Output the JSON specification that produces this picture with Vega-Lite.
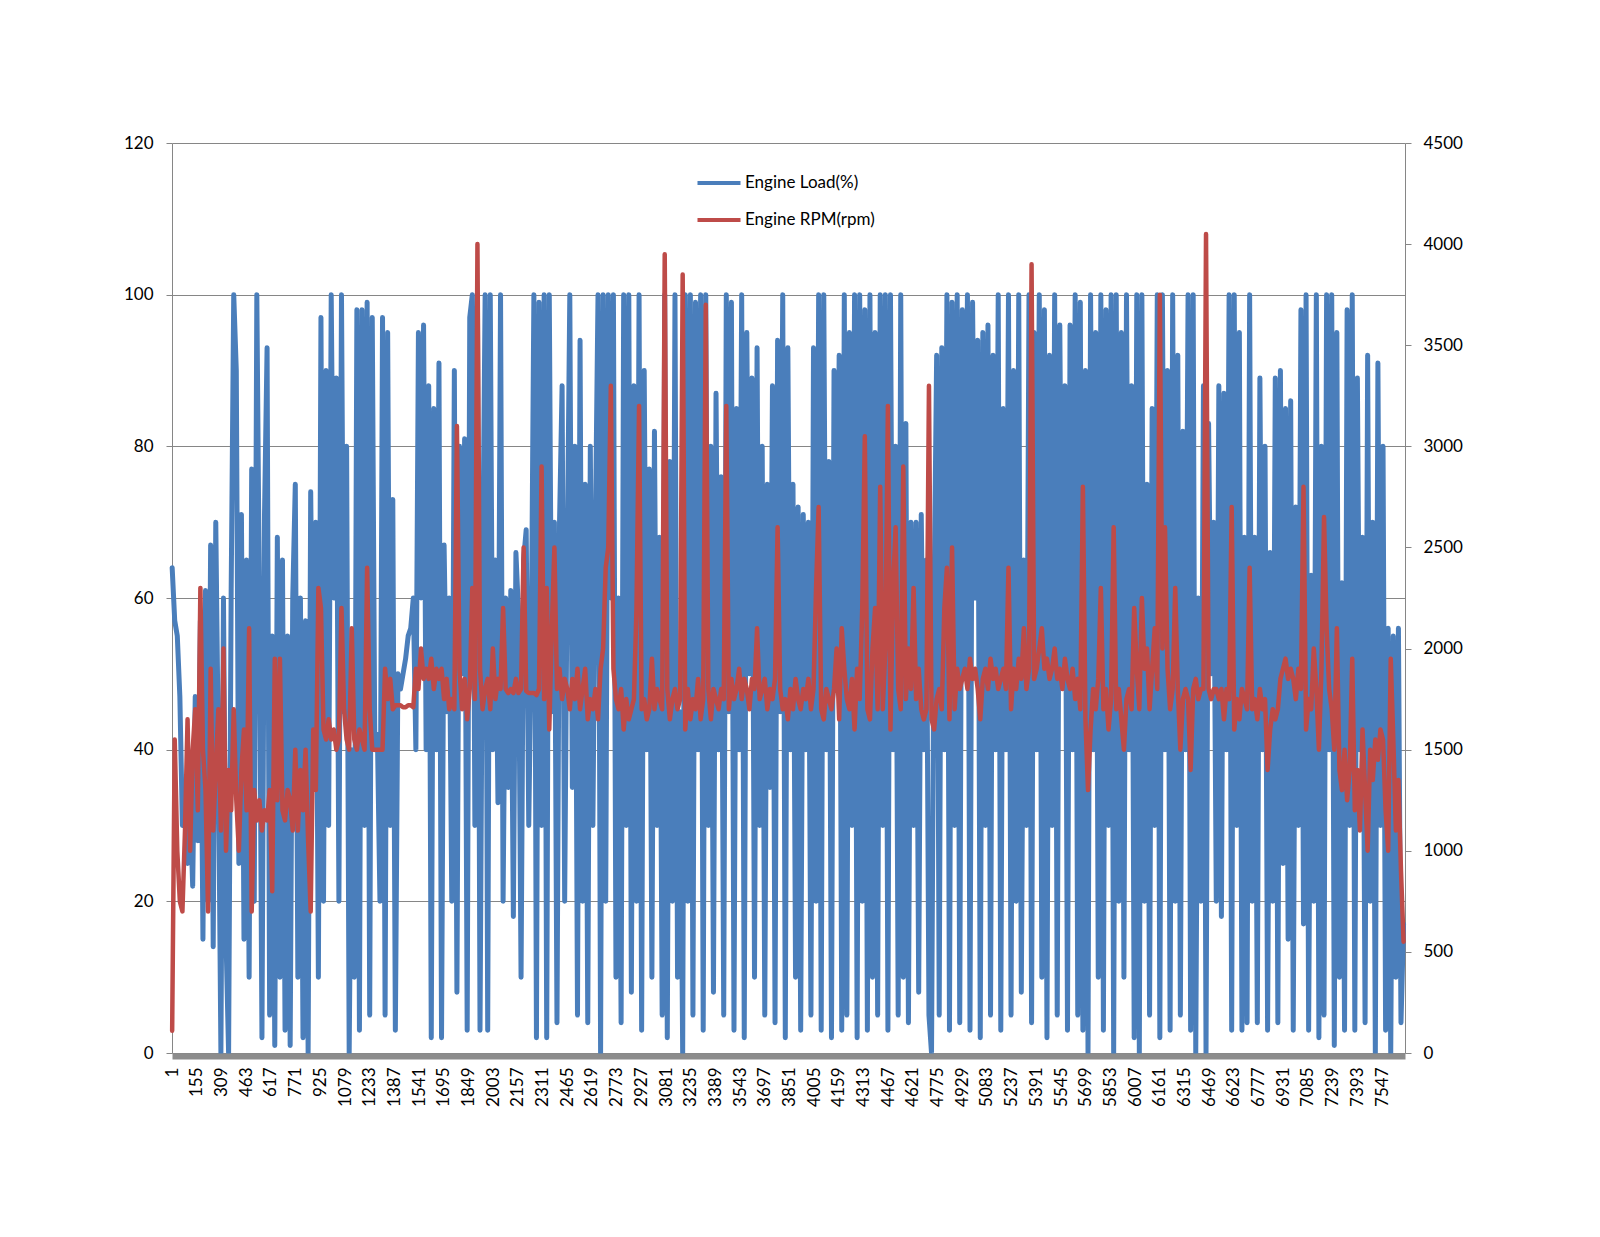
{
"$schema": "https://vega.github.io/schema/vega-lite/v6.json",
"width": 1233, "height": 910,
"autosize": {"type": "none"},
"padding": {"left": 172, "top": 143, "right": 195, "bottom": 184},
"background": "white",
"config": {"view": {"stroke": null}, "font": "Lato", "axis": {"labelFont": "Lato", "labelColor": "#000", "labelFontSize": 17, "title": null}},
"data": {"values": [
{"i":1,"l":64,"r":110},{"i":17,"l":57,"r":1550},{"i":33,"l":55,"r":1000},{"i":49,"l":47,"r":750},{"i":65,"l":30,"r":700},{"i":81,"l":34,"r":1100},{"i":97,"l":25,"r":1650},{"i":113,"l":33,"r":1000},{"i":129,"l":22,"r":1500},{"i":145,"l":47,"r":1700},{"i":161,"l":28,"r":1200},{"i":177,"l":57,"r":2300},{"i":193,"l":15,"r":1500},
{"i":209,"l":61,"r":1300},{"i":225,"l":20,"r":700},{"i":241,"l":67,"r":1900},{"i":257,"l":14,"r":1100},{"i":273,"l":70,"r":1400},{"i":289,"l":40,"r":1700},{"i":305,"l":0,"r":1100},{"i":321,"l":60,"r":2000},{"i":337,"l":15,"r":1000},{"i":353,"l":0,"r":1400},{"i":369,"l":61,"r":1200},{"i":385,"l":100,"r":1700},{"i":401,"l":90,"r":1250},{"i":417,"l":25,"r":1000},{"i":433,"l":71,"r":1400},{"i":449,"l":15,"r":1600},{"i":465,"l":65,"r":1200},{"i":481,"l":10,"r":2100},{"i":497,"l":77,"r":700},{"i":513,"l":20,"r":1300},
{"i":529,"l":100,"r":1150},{"i":545,"l":60,"r":1250},{"i":561,"l":2,"r":1100},{"i":577,"l":71,"r":1200},{"i":593,"l":93,"r":1150},{"i":609,"l":5,"r":1300},{"i":625,"l":55,"r":800},{"i":641,"l":1,"r":1950},{"i":657,"l":68,"r":1250},{"i":673,"l":10,"r":1950},{"i":689,"l":65,"r":1200},{"i":705,"l":3,"r":1150},{"i":721,"l":55,"r":1300},{"i":737,"l":1,"r":1250},{"i":753,"l":60,"r":1100},{"i":769,"l":75,"r":1500},{"i":785,"l":10,"r":1100},{"i":801,"l":60,"r":1400},{"i":817,"l":2,"r":1200},{"i":833,"l":57,"r":1500},
{"i":849,"l":0,"r":1050},{"i":865,"l":74,"r":700},{"i":881,"l":40,"r":1600},{"i":897,"l":70,"r":1300},{"i":913,"l":10,"r":2300},{"i":929,"l":97,"r":2200},{"i":945,"l":20,"r":1600},{"i":961,"l":90,"r":1550},{"i":977,"l":30,"r":1650},{"i":993,"l":100,"r":1550},{"i":1009,"l":60,"r":1600},{"i":1025,"l":89,"r":1500},{"i":1041,"l":20,"r":1550},{"i":1057,"l":100,"r":2200},{"i":1073,"l":45,"r":1700},{"i":1089,"l":80,"r":1550},{"i":1105,"l":0,"r":1500},{"i":1121,"l":40,"r":2100},{"i":1137,"l":10,"r":1550},{"i":1153,"l":98,"r":1500},
{"i":1169,"l":3,"r":1600},{"i":1185,"l":98,"r":1550},{"i":1201,"l":30,"r":1500},{"i":1217,"l":99,"r":2400},{"i":1233,"l":5,"r":1700},{"i":1249,"l":97,"r":1500},{"i":1265,"l":40,"r":1500},{"i":1281,"l":42,"r":1500},{"i":1297,"l":20,"r":1500},{"i":1313,"l":97,"r":1500},{"i":1329,"l":5,"r":1900},{"i":1345,"l":95,"r":1750},{"i":1361,"l":30,"r":1850},{"i":1377,"l":73,"r":1700},{"i":1393,"l":3,"r":1720},{"i":1409,"l":50,"r":1720},{"i":1425,"l":48,"r":1720},{"i":1441,"l":50,"r":1710},{"i":1457,"l":52,"r":1710},{"i":1473,"l":55,"r":1720},
{"i":1489,"l":56,"r":1720},{"i":1505,"l":60,"r":1710},{"i":1521,"l":40,"r":1900},{"i":1537,"l":95,"r":1800},{"i":1553,"l":60,"r":2000},{"i":1569,"l":96,"r":1850},{"i":1585,"l":40,"r":1900},{"i":1601,"l":88,"r":1850},{"i":1617,"l":2,"r":1950},{"i":1633,"l":85,"r":1800},{"i":1649,"l":40,"r":1900},{"i":1665,"l":91,"r":1850},{"i":1681,"l":2,"r":1900},{"i":1697,"l":67,"r":1750},{"i":1713,"l":45,"r":1850},{"i":1729,"l":60,"r":1700},{"i":1745,"l":20,"r":1750},{"i":1761,"l":90,"r":1700},{"i":1777,"l":8,"r":3100},{"i":1793,"l":80,"r":1900},
{"i":1809,"l":50,"r":1700},{"i":1825,"l":81,"r":1850},{"i":1841,"l":3,"r":1650},{"i":1857,"l":97,"r":1800},{"i":1873,"l":100,"r":2300},{"i":1889,"l":30,"r":1750},{"i":1905,"l":100,"r":4000},{"i":1921,"l":3,"r":1900},{"i":1937,"l":62,"r":1700},{"i":1953,"l":100,"r":1800},{"i":1969,"l":3,"r":1850},{"i":1985,"l":100,"r":1700},{"i":2001,"l":40,"r":2000},{"i":2017,"l":65,"r":1750},{"i":2033,"l":33,"r":1850},{"i":2049,"l":100,"r":1800},{"i":2065,"l":20,"r":2200},{"i":2081,"l":60,"r":1800},{"i":2097,"l":35,"r":1780},{"i":2113,"l":61,"r":1800},
{"i":2129,"l":18,"r":1780},{"i":2145,"l":66,"r":1850},{"i":2161,"l":58,"r":1780},{"i":2177,"l":10,"r":1800},{"i":2193,"l":65,"r":2500},{"i":2209,"l":69,"r":1790},{"i":2225,"l":30,"r":1780},{"i":2241,"l":55,"r":1780},{"i":2257,"l":100,"r":1780},{"i":2273,"l":2,"r":1770},{"i":2289,"l":99,"r":1800},{"i":2305,"l":30,"r":2900},{"i":2321,"l":100,"r":1750},{"i":2337,"l":2,"r":2300},{"i":2353,"l":100,"r":1600},{"i":2369,"l":45,"r":2100},{"i":2385,"l":70,"r":2500},{"i":2401,"l":4,"r":1800},{"i":2417,"l":70,"r":1900},
{"i":2433,"l":88,"r":1750},{"i":2449,"l":20,"r":1850},{"i":2465,"l":65,"r":1800},{"i":2481,"l":100,"r":1700},{"i":2497,"l":35,"r":1850},{"i":2513,"l":80,"r":1750},{"i":2529,"l":5,"r":1900},{"i":2545,"l":94,"r":1700},{"i":2561,"l":20,"r":1800},{"i":2577,"l":75,"r":1900},{"i":2593,"l":4,"r":1650},{"i":2609,"l":80,"r":1750},{"i":2625,"l":30,"r":1700},{"i":2641,"l":70,"r":1800},{"i":2657,"l":100,"r":1650},{"i":2673,"l":0,"r":1900},{"i":2689,"l":100,"r":2000},{"i":2705,"l":20,"r":2400},{"i":2721,"l":100,"r":2500},{"i":2737,"l":60,"r":3300},
{"i":2753,"l":100,"r":1900},{"i":2769,"l":10,"r":1750},{"i":2785,"l":60,"r":1700},{"i":2801,"l":4,"r":1800},{"i":2817,"l":100,"r":1600},{"i":2833,"l":30,"r":1750},{"i":2849,"l":100,"r":1650},{"i":2865,"l":8,"r":1700},{"i":2881,"l":88,"r":1750},{"i":2897,"l":20,"r":2200},{"i":2913,"l":100,"r":3200},{"i":2929,"l":3,"r":1700},{"i":2945,"l":90,"r":1750},{"i":2961,"l":40,"r":1650},{"i":2977,"l":77,"r":1700},{"i":2993,"l":10,"r":1950},{"i":3009,"l":82,"r":1700},{"i":3025,"l":30,"r":1800},{"i":3041,"l":68,"r":1750},{"i":3057,"l":5,"r":1700},
{"i":3073,"l":100,"r":3950},{"i":3089,"l":2,"r":1800},{"i":3105,"l":78,"r":1650},{"i":3121,"l":20,"r":1750},{"i":3137,"l":100,"r":1800},{"i":3153,"l":10,"r":1700},{"i":3169,"l":45,"r":1750},{"i":3185,"l":0,"r":3850},{"i":3201,"l":100,"r":1600},{"i":3217,"l":20,"r":1800},{"i":3233,"l":100,"r":1650},{"i":3249,"l":5,"r":1750},{"i":3265,"l":99,"r":1700},{"i":3281,"l":40,"r":1850},{"i":3297,"l":100,"r":1650},{"i":3313,"l":3,"r":1750},{"i":3329,"l":100,"r":3700},{"i":3345,"l":30,"r":1800},{"i":3361,"l":80,"r":1650},{"i":3377,"l":8,"r":1800},
{"i":3393,"l":87,"r":1750},{"i":3409,"l":40,"r":1700},{"i":3425,"l":76,"r":1800},{"i":3441,"l":5,"r":1750},{"i":3457,"l":100,"r":3200},{"i":3473,"l":45,"r":1700},{"i":3489,"l":99,"r":1850},{"i":3505,"l":3,"r":1750},{"i":3521,"l":85,"r":1800},{"i":3537,"l":40,"r":1900},{"i":3553,"l":100,"r":1750},{"i":3569,"l":2,"r":1850},{"i":3585,"l":95,"r":1800},{"i":3601,"l":50,"r":1700},{"i":3617,"l":89,"r":1850},{"i":3633,"l":10,"r":1800},{"i":3649,"l":93,"r":2100},{"i":3665,"l":30,"r":1750},{"i":3681,"l":80,"r":1800},{"i":3697,"l":5,"r":1850},
{"i":3713,"l":75,"r":1700},{"i":3729,"l":35,"r":1800},{"i":3745,"l":88,"r":1750},{"i":3761,"l":4,"r":1850},{"i":3777,"l":94,"r":2600},{"i":3793,"l":45,"r":1800},{"i":3809,"l":100,"r":1700},{"i":3825,"l":2,"r":1750},{"i":3841,"l":93,"r":1650},{"i":3857,"l":40,"r":1800},{"i":3873,"l":75,"r":1700},{"i":3889,"l":10,"r":1850},{"i":3905,"l":72,"r":1750},{"i":3921,"l":3,"r":1700},{"i":3937,"l":71,"r":1800},{"i":3953,"l":40,"r":1750},{"i":3969,"l":70,"r":1850},{"i":3985,"l":5,"r":1700},{"i":4001,"l":93,"r":1800},{"i":4017,"l":20,"r":2300},
{"i":4033,"l":100,"r":2700},{"i":4049,"l":3,"r":1700},{"i":4065,"l":100,"r":1650},{"i":4081,"l":40,"r":1800},{"i":4097,"l":78,"r":1750},{"i":4113,"l":2,"r":1700},{"i":4129,"l":90,"r":1800},{"i":4145,"l":50,"r":2000},{"i":4161,"l":92,"r":1650},{"i":4177,"l":3,"r":2100},{"i":4193,"l":100,"r":1900},{"i":4209,"l":5,"r":1750},{"i":4225,"l":95,"r":1700},{"i":4241,"l":30,"r":1850},{"i":4257,"l":100,"r":1600},{"i":4273,"l":2,"r":1900},{"i":4289,"l":100,"r":1750},{"i":4305,"l":20,"r":2200},{"i":4321,"l":98,"r":3050},{"i":4337,"l":3,"r":1700},
{"i":4353,"l":100,"r":1650},{"i":4369,"l":10,"r":2000},{"i":4385,"l":95,"r":2200},{"i":4401,"l":5,"r":1700},{"i":4417,"l":100,"r":2800},{"i":4433,"l":30,"r":1700},{"i":4449,"l":100,"r":2000},{"i":4465,"l":3,"r":3200},{"i":4481,"l":100,"r":1600},{"i":4497,"l":40,"r":2300},{"i":4513,"l":80,"r":2600},{"i":4529,"l":5,"r":1800},{"i":4545,"l":100,"r":1700},{"i":4561,"l":10,"r":2900},{"i":4577,"l":83,"r":1750},{"i":4593,"l":4,"r":2000},{"i":4609,"l":70,"r":1800},{"i":4625,"l":30,"r":2300},{"i":4641,"l":70,"r":1750},
{"i":4657,"l":8,"r":1900},{"i":4673,"l":71,"r":1700},{"i":4689,"l":40,"r":1650},{"i":4705,"l":65,"r":1700},{"i":4721,"l":5,"r":3300},{"i":4737,"l":0,"r":1650},{"i":4753,"l":60,"r":1600},{"i":4769,"l":92,"r":1750},{"i":4785,"l":5,"r":1800},{"i":4801,"l":93,"r":1700},{"i":4817,"l":40,"r":2200},{"i":4833,"l":100,"r":2400},{"i":4849,"l":3,"r":1650},{"i":4865,"l":99,"r":2500},{"i":4881,"l":30,"r":1700},{"i":4897,"l":100,"r":1900},{"i":4913,"l":4,"r":1800},{"i":4929,"l":98,"r":1850},{"i":4945,"l":50,"r":1900},{"i":4961,"l":100,"r":1800},
{"i":4977,"l":3,"r":1950},{"i":4993,"l":99,"r":1850},{"i":5009,"l":60,"r":1900},{"i":5025,"l":94,"r":1800},{"i":5041,"l":2,"r":1650},{"i":5057,"l":95,"r":1850},{"i":5073,"l":30,"r":1900},{"i":5089,"l":96,"r":1800},{"i":5105,"l":5,"r":1950},{"i":5121,"l":92,"r":1850},{"i":5137,"l":40,"r":1900},{"i":5153,"l":100,"r":1800},{"i":5169,"l":3,"r":1850},{"i":5185,"l":85,"r":1900},{"i":5201,"l":40,"r":1800},{"i":5217,"l":100,"r":2400},{"i":5233,"l":5,"r":1700},{"i":5249,"l":90,"r":1900},{"i":5265,"l":20,"r":1800},{"i":5281,"l":100,"r":1950},
{"i":5297,"l":8,"r":1850},{"i":5313,"l":65,"r":2100},{"i":5329,"l":30,"r":1800},{"i":5345,"l":100,"r":1900},{"i":5361,"l":4,"r":3900},{"i":5377,"l":95,"r":1850},{"i":5393,"l":40,"r":1900},{"i":5409,"l":100,"r":2000},{"i":5425,"l":10,"r":2100},{"i":5441,"l":98,"r":1900},{"i":5457,"l":2,"r":1950},{"i":5473,"l":92,"r":1850},{"i":5489,"l":30,"r":1900},{"i":5505,"l":100,"r":2000},{"i":5521,"l":5,"r":1850},{"i":5537,"l":96,"r":1900},{"i":5553,"l":50,"r":1800},{"i":5569,"l":88,"r":1950},{"i":5585,"l":3,"r":1850},{"i":5601,"l":96,"r":1800},
{"i":5617,"l":40,"r":1900},{"i":5633,"l":100,"r":1750},{"i":5649,"l":5,"r":1850},{"i":5665,"l":99,"r":1700},{"i":5681,"l":3,"r":2800},{"i":5697,"l":90,"r":1650},{"i":5713,"l":0,"r":1300},{"i":5729,"l":100,"r":1600},{"i":5745,"l":40,"r":1800},{"i":5761,"l":95,"r":1700},{"i":5777,"l":10,"r":1850},{"i":5793,"l":100,"r":2300},{"i":5809,"l":3,"r":1700},{"i":5825,"l":98,"r":1800},{"i":5841,"l":30,"r":1600},{"i":5857,"l":100,"r":1750},{"i":5873,"l":0,"r":2600},{"i":5889,"l":100,"r":1700},{"i":5905,"l":20,"r":1800},{"i":5921,"l":95,"r":1650},
{"i":5937,"l":10,"r":1500},{"i":5953,"l":100,"r":1750},{"i":5969,"l":40,"r":1800},{"i":5985,"l":88,"r":1700},{"i":6001,"l":2,"r":2200},{"i":6017,"l":100,"r":1900},{"i":6033,"l":0,"r":1700},{"i":6049,"l":100,"r":2250},{"i":6065,"l":20,"r":1900},{"i":6081,"l":75,"r":2000},{"i":6097,"l":5,"r":1700},{"i":6113,"l":85,"r":1900},{"i":6129,"l":30,"r":2100},{"i":6145,"l":100,"r":1800},{"i":6161,"l":2,"r":3750},{"i":6177,"l":100,"r":2000},{"i":6193,"l":40,"r":2600},{"i":6209,"l":90,"r":1900},{"i":6225,"l":3,"r":1700},{"i":6241,"l":100,"r":1800},
{"i":6257,"l":20,"r":2300},{"i":6273,"l":92,"r":1800},{"i":6289,"l":5,"r":1500},{"i":6305,"l":82,"r":1750},{"i":6321,"l":40,"r":1800},{"i":6337,"l":100,"r":1750},{"i":6353,"l":3,"r":1400},{"i":6369,"l":100,"r":1800},{"i":6385,"l":0,"r":1850},{"i":6401,"l":60,"r":1750},{"i":6417,"l":20,"r":1800},{"i":6433,"l":88,"r":1800},{"i":6449,"l":0,"r":4050},{"i":6465,"l":83,"r":1800},{"i":6481,"l":50,"r":1750},{"i":6497,"l":70,"r":1800},{"i":6513,"l":20,"r":1800},{"i":6529,"l":88,"r":1750},{"i":6545,"l":18,"r":1800},{"i":6561,"l":87,"r":1650},
{"i":6577,"l":40,"r":1800},{"i":6593,"l":100,"r":1750},{"i":6609,"l":3,"r":2700},{"i":6625,"l":100,"r":1600},{"i":6641,"l":30,"r":1750},{"i":6657,"l":95,"r":1650},{"i":6673,"l":3,"r":1800},{"i":6689,"l":68,"r":1750},{"i":6705,"l":4,"r":1700},{"i":6721,"l":100,"r":2400},{"i":6737,"l":20,"r":1700},{"i":6753,"l":68,"r":1750},{"i":6769,"l":4,"r":1650},{"i":6785,"l":89,"r":1800},{"i":6801,"l":40,"r":1700},{"i":6817,"l":80,"r":1750},{"i":6833,"l":3,"r":1400},{"i":6849,"l":66,"r":1600},{"i":6865,"l":20,"r":1700},{"i":6881,"l":89,"r":1650},
{"i":6897,"l":4,"r":1700},{"i":6913,"l":90,"r":1850},{"i":6929,"l":25,"r":1900},{"i":6945,"l":85,"r":1950},{"i":6961,"l":15,"r":1850},{"i":6977,"l":86,"r":1900},{"i":6993,"l":3,"r":1850},{"i":7009,"l":72,"r":1750},{"i":7025,"l":30,"r":1900},{"i":7041,"l":98,"r":1800},{"i":7057,"l":17,"r":2800},{"i":7073,"l":100,"r":1600},{"i":7089,"l":3,"r":1750},{"i":7105,"l":63,"r":1700},{"i":7121,"l":20,"r":2000},{"i":7137,"l":100,"r":1800},{"i":7153,"l":2,"r":1500},{"i":7169,"l":80,"r":1900},{"i":7185,"l":5,"r":2650},
{"i":7201,"l":100,"r":2100},{"i":7217,"l":40,"r":1800},{"i":7233,"l":100,"r":1700},{"i":7249,"l":1,"r":1500},{"i":7265,"l":95,"r":2100},{"i":7281,"l":10,"r":1400},{"i":7297,"l":62,"r":1300},{"i":7313,"l":3,"r":1500},{"i":7329,"l":98,"r":1250},{"i":7345,"l":30,"r":1400},{"i":7361,"l":100,"r":1950},{"i":7377,"l":3,"r":1200},{"i":7393,"l":89,"r":1400},{"i":7409,"l":40,"r":1100},{"i":7425,"l":68,"r":1600},{"i":7441,"l":4,"r":1300},{"i":7457,"l":92,"r":1000},{"i":7473,"l":20,"r":1500},{"i":7489,"l":70,"r":1350},{"i":7505,"l":0,"r":1550},
{"i":7521,"l":91,"r":1450},{"i":7537,"l":30,"r":1600},{"i":7553,"l":80,"r":1550},{"i":7569,"l":3,"r":1200},{"i":7585,"l":56,"r":1000},{"i":7601,"l":0,"r":1950},{"i":7617,"l":55,"r":1550},{"i":7633,"l":10,"r":1100},{"i":7649,"l":56,"r":1350},{"i":7665,"l":4,"r":900},{"i":7681,"l":17,"r":550}
]},
"encoding": {
  "x": {"field": "i", "type": "quantitative",
    "scale": {"domain": [0, 7690], "nice": false, "zero": false},
    "axis": {"values": [1,155,309,463,617,771,925,1079,1233,1387,1541,1695,1849,2003,2157,2311,2465,2619,2773,2927,3081,3235,3389,3543,3697,3851,4005,4159,4313,4467,4621,4775,4929,5083,5237,5391,5545,5699,5853,6007,6161,6315,6469,6623,6777,6931,7085,7239,7393,7547],
      "format": "d", "labelAngle": -90, "ticks": false, "tickSize": 0, "grid": false,
      "domainColor": "#8c8c8c", "domainWidth": 6, "offset": 3, "labelPadding": 11,
      "labelOverlap": false, "labelBound": false, "labelFlush": false, "zindex": 1}}
},
"layer": [
  {"mark": {"type": "line", "strokeWidth": 5, "strokeJoin": "round", "strokeCap": "round"},
   "encoding": {
     "y": {"field": "l", "type": "quantitative", "scale": {"domain": [0, 120], "nice": false},
       "axis": {"orient": "left", "values": [0,20,40,60,80,100,120], "format": "d", "grid": true, "gridColor": "#868686", "gridWidth": 1,
         "domainColor": "#868686", "tickColor": "#868686", "tickSize": 6, "labelPadding": 13}},
     "color": {"datum": "Engine Load(%)", "type": "nominal",
       "scale": {"domain": ["Engine Load(%)", "Engine RPM(rpm)"], "range": ["#4A7EBB", "#BE4B48"]},
       "legend": {"orient": "none", "legendX": 523, "legendY": 30, "title": null, "symbolType": "stroke",
         "symbolSize": 1850, "symbolStrokeWidth": 4, "labelFont": "Lato", "labelFontSize": 17, "labelColor": "#000",
         "labelOffset": 2, "padding": 0, "rowPadding": 17, "clipHeight": 20}}
   }},
  {"mark": {"type": "line", "strokeWidth": 4.5, "strokeJoin": "round", "strokeCap": "round"},
   "encoding": {
     "y": {"field": "r", "type": "quantitative", "scale": {"domain": [0, 4500], "nice": false},
       "axis": {"orient": "right", "values": [0,500,1000,1500,2000,2500,3000,3500,4000,4500], "format": "d", "grid": false,
         "domainColor": "#868686", "tickColor": "#868686", "tickSize": 6, "labelPadding": 12}},
     "color": {"datum": "Engine RPM(rpm)", "type": "nominal"}
   }}
],
"resolve": {"scale": {"y": "independent"}}
}
